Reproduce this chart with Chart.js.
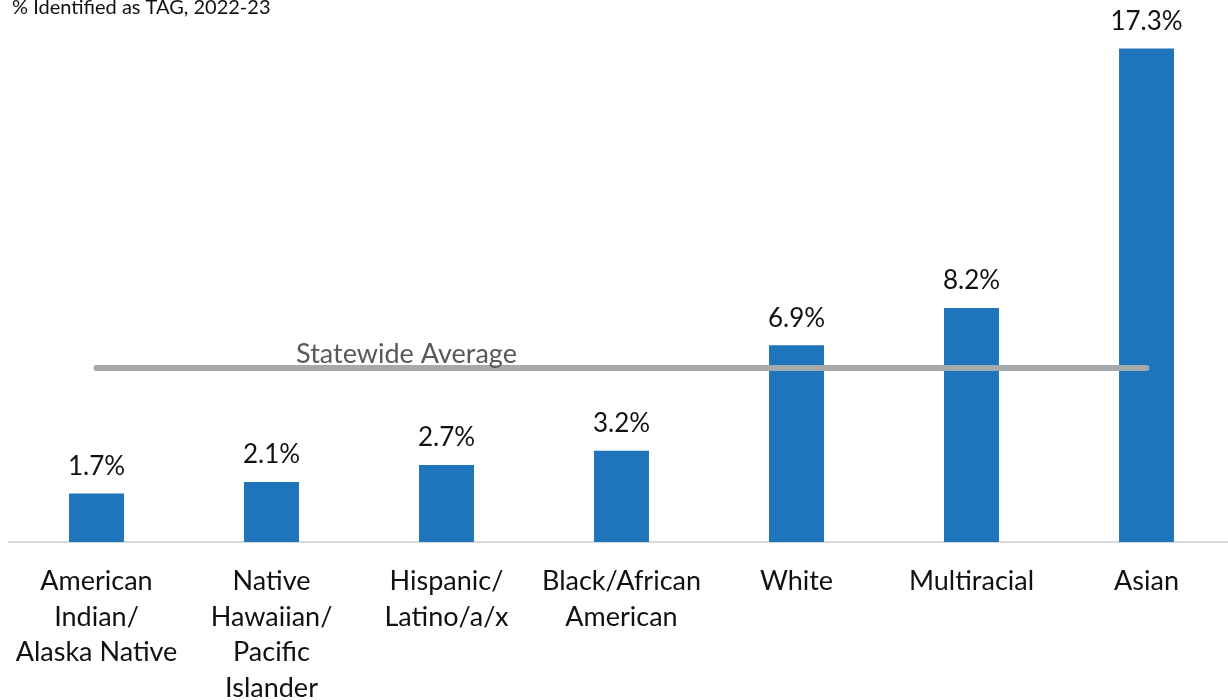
<!DOCTYPE html>
<html>
<head>
<meta charset="utf-8">
<script src="https://cdn.jsdelivr.net/npm/chart.js@4"></script>
<style>
  html, body { margin: 0; padding: 0; background: #fff; overflow: hidden; }
  #wrap { width: 1228px; height: 700px; overflow: hidden; }
</style>
</head>
<body>
<div id="wrap"><canvas id="tagChart" width="1240" height="700"></canvas></div>
<script>
// Chart data
const categories = [
    ['American', 'Indian/', 'Alaska Native'],
    ['Native', 'Hawaiian/', 'Pacific', 'Islander'],
    ['Hispanic/', 'Latino/a/x'],
    ['Black/African', 'American'],
    'White',
    'Multiracial',
    'Asian'
];
const tagPercent = [1.7, 2.1, 2.7, 3.2, 6.9, 8.2, 17.3];
const statewideAverage = [6.1, 6.1, 6.1, 6.1, 6.1, 6.1, 6.1];
const chartTitle = '% Identified as TAG, 2022-23';
const averageLabel = 'Statewide Average';

const FONT = 'Lato, "Open Sans", sans-serif';

// Draws the value labels, the title and the average line caption
const labelPlugin = {
    id: 'labelPlugin',
    afterDatasetsDraw(chart) {
        const ctx = chart.ctx;
        ctx.save();

        // value above each bar
        const barMeta = chart.getDatasetMeta(1);
        ctx.fillStyle = '#111';
        ctx.font = '26px ' + FONT;
        ctx.textAlign = 'center';
        ctx.textBaseline = 'middle';
        barMeta.data.forEach(function(bar, i) {
            ctx.fillText(tagPercent[i].toFixed(1) + '%', bar.x, bar.y - 27);
        });

        // caption of the statewide average line
        const xScale = chart.scales.x;
        const yScale = chart.scales.y;
        ctx.fillStyle = '#595959';
        ctx.font = '27px ' + FONT;
        const capX = (xScale.getPixelForValue(1) + xScale.getPixelForValue(3)) / 2 - 40;
        ctx.fillText(averageLabel, capX, yScale.getPixelForValue(statewideAverage[0]) - 14);

        // chart title
        ctx.fillStyle = '#111';
        ctx.font = '20px ' + FONT;
        ctx.textAlign = 'left';
        ctx.fillText(chartTitle, 12, 8);

        ctx.restore();
    }
};

const ctx = document.getElementById('tagChart').getContext('2d');
const tagChart = new Chart(ctx, {
    type: 'bar',
    data: {
        labels: categories,
        datasets: [
            {
                type: 'line',
                label: averageLabel,
                data: statewideAverage,
                borderColor: '#A5A9AA',
                borderWidth: 6,
                borderCapStyle: 'round',
                pointRadius: 0,
                fill: false,
                order: 0
            },
            {
                label: chartTitle,
                data: tagPercent,
                backgroundColor: '#1E75BC',
                barPercentage: 0.314,
                categoryPercentage: 1,
                order: 1
            }
        ]
    },
    options: {
        responsive: false,
        animation: false,
        layout: {
            padding: { left: 9, right: 6, top: 0, bottom: 0 }
        },
        plugins: {
            legend: { display: false },
            title: { display: false },
            tooltip: { enabled: false }
        },
        scales: {
            x: {
                grid: { display: false },
                border: { display: true, color: '#D9D9D9', width: 2 },
                ticks: {
                    color: '#111',
                    font: { family: FONT, size: 27, lineHeight: 1.33 },
                    padding: 13,
                    maxRotation: 0,
                    autoSkip: false
                },
                afterFit: function(scale) {
                    scale.height = 158;
                }
            },
            y: {
                display: false,
                min: 0,
                max: 19
            }
        }
    },
    plugins: [labelPlugin]
});
</script>
</body>
</html>
